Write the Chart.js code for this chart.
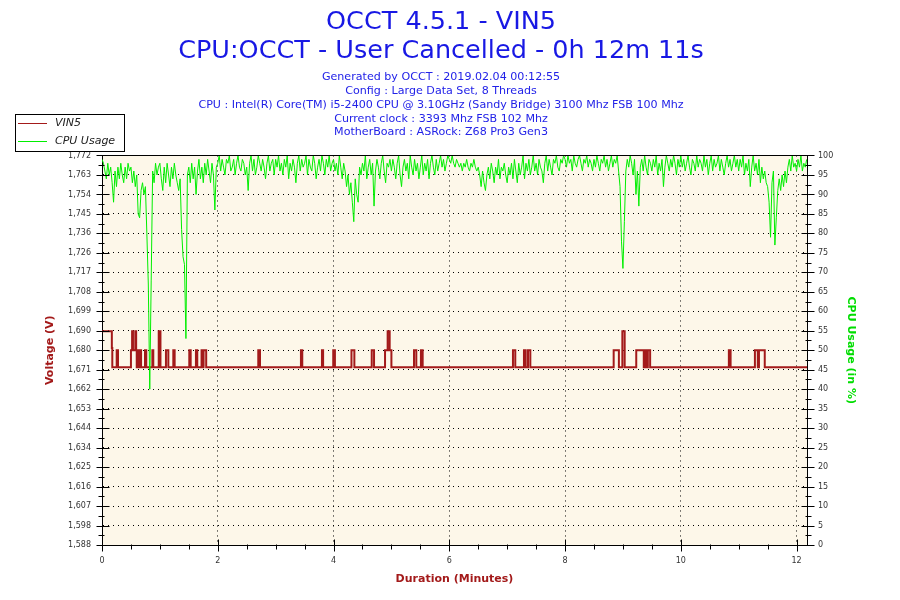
<!DOCTYPE html>
<html>
<head>
<meta charset="utf-8">
<script src="https://cdn.jsdelivr.net/npm/chart.js@4.4.0/dist/chart.umd.min.js"></script>
<style>
html,body{margin:0;padding:0;background:#fff;}
#wrap{width:900px;height:600px;}
</style>
</head>
<body>
<div id="wrap"><canvas id="c" width="900" height="600"></canvas></div>
<script>
// ---------- data ----------
const titleLines = ['OCCT 4.5.1 - VIN5', 'CPU:OCCT - User Cancelled - 0h 12m 11s'];
const infoLines = [
  'Generated by OCCT : 2019.02.04 00:12:55',
  'Config : Large Data Set, 8 Threads',
  'CPU : Intel(R) Core(TM) i5-2400 CPU @ 3.10GHz (Sandy Bridge) 3100 Mhz FSB 100 Mhz',
  'Current clock : 3393 Mhz FSB 102 Mhz',
  'MotherBoard : ASRock: Z68 Pro3 Gen3'
];
const seriesNames = ['VIN5', 'CPU Usage'];
const axisTitles = { x: 'Duration (Minutes)', left: 'Voltage (V)', right: 'CPU Usage (in %)' };

// VIN5: value holds from each time until the next time (minutes)
const vinTimes = [0, 0.170, 0.178, 0.254, 0.276, 0.500, 0.520, 0.535, 0.575, 0.590,
  0.600, 0.610, 0.640, 0.650, 0.675, 0.743, 0.765, 0.870, 0.886, 0.980,
  1.010, 1.105, 1.146, 1.232, 1.255, 1.508, 1.532, 1.623, 1.646, 1.720,
  1.745, 1.755, 1.800, 2.700, 2.730, 3.437, 3.460, 3.800, 3.820, 3.995,
  4.024, 4.310, 4.360, 4.660, 4.700, 4.890, 4.935, 4.970, 5.000, 5.390,
  5.430, 5.510, 5.540, 7.100, 7.140, 7.290, 7.320, 7.360, 7.400, 8.840,
  8.930, 8.990, 9.030, 9.230, 9.360, 9.380, 9.410, 9.430, 9.470, 10.830,
  10.860, 11.280, 11.330, 11.350, 11.450, 12.180];
const vinValues = [1.689, 1.681, 1.672, 1.680, 1.672, 1.680, 1.689, 1.680, 1.689, 1.680,
  1.672, 1.680, 1.672, 1.680, 1.672, 1.680, 1.672, 1.680, 1.672, 1.689,
  1.672, 1.680, 1.672, 1.680, 1.672, 1.680, 1.672, 1.680, 1.672, 1.680,
  1.672, 1.680, 1.672, 1.680, 1.672, 1.680, 1.672, 1.680, 1.672, 1.680,
  1.672, 1.680, 1.672, 1.680, 1.672, 1.680, 1.689, 1.680, 1.672, 1.680,
  1.672, 1.680, 1.672, 1.680, 1.672, 1.680, 1.672, 1.680, 1.672, 1.680,
  1.672, 1.689, 1.672, 1.680, 1.672, 1.680, 1.672, 1.680, 1.672, 1.680,
  1.672, 1.680, 1.672, 1.680, 1.672, 1.672];

// CPU usage (%) sampled every cpuStep minutes (one row = half a minute)
const cpuStep = 0.025;
const cpuValues = [
  99, 98, 96, 94, 98, 95, 97, 93, 88, 96, 92, 97, 94, 98, 95, 93, 97, 94, 98, 96,
  97, 93, 96, 92, 95, 85, 84, 91, 93, 90, 92, 80, 67, 40, 68, 96, 93, 98, 95, 97,
  98, 94, 91, 97, 93, 98, 95, 92, 97, 94, 98, 95, 93, 91, 94, 81, 74, 72, 53, 95,
  97, 93, 98, 94, 97, 90, 96, 99, 94, 97, 93, 98, 95, 99, 96, 93, 98, 95, 86, 97,
  98, 100, 96, 99, 97, 95, 99, 98, 100, 96, 97, 99, 95, 98, 100, 97, 96, 99, 98, 95,
  97, 91, 98, 100, 96, 99, 95, 97, 100, 98, 96, 99, 97, 94, 98, 100, 96, 98, 99, 95,
  99, 97, 100, 96, 98, 95, 99, 97, 100, 94, 98, 96, 99, 97, 93, 98, 100, 96, 99, 97,
  98, 100, 95, 99, 97, 96, 100, 98, 94, 97, 99, 96, 100, 98, 95, 99, 97, 100, 96, 98,
  99, 96, 98, 95, 100, 97, 94, 98, 96, 92, 95, 90, 93, 88, 83, 94, 90, 88, 97, 95,
  98, 96, 100, 94, 97, 99, 95, 98, 87, 96, 99, 97, 94, 98, 100, 96, 93, 98, 97, 99,
  96, 99, 97, 94, 98, 100, 95, 92, 97, 99, 96, 98, 94, 100, 97, 95, 99, 96, 98, 94,
  97, 100, 95, 98, 96, 99, 94, 98, 100, 97, 95, 99, 96, 98, 100, 97, 99, 96, 98, 100,
  99, 98, 100, 98, 97, 99, 98, 97, 98, 96, 98, 97, 99, 97, 96, 98, 97, 99, 97, 96,
  97, 95, 92, 96, 93, 91, 95, 97, 94, 98, 96, 93, 97, 95, 99, 94, 97, 96, 98, 95,
  93, 97, 95, 98, 94, 99, 96, 93, 98, 95, 97, 100, 94, 98, 96, 99, 95, 97, 100, 96,
  98, 95, 99, 97, 96, 93, 98, 100, 96, 99, 97, 95, 99, 98, 100, 97, 96, 99, 98, 100,
  99, 97, 100, 98, 99, 96, 100, 98, 97, 99, 100, 98, 96, 99, 98, 100, 97, 99, 98, 96,
  99, 97, 100, 98, 96, 99, 98, 100, 97, 99, 96, 98, 100, 97, 99, 98, 100, 96, 92, 78,
  71, 83, 96, 99, 97, 100, 98, 95, 99, 90, 96, 87, 97, 99, 96, 100, 97, 95, 99, 98,
  96, 99, 97, 100, 95, 98, 96, 99, 92, 97, 100, 98, 96, 99, 97, 100, 98, 95, 99, 97,
  100, 97, 99, 96, 98, 100, 97, 95, 99, 98, 96, 100, 97, 99, 98, 96, 100, 97, 99, 95,
  98, 100, 96, 99, 97, 98, 100, 96, 99, 97, 95, 98, 100, 97, 99, 96, 98, 100, 97, 99,
  96, 99, 97, 100, 95, 98, 96, 99, 92, 97, 100, 96, 98, 95, 99, 93, 97, 94, 96, 93,
  92, 88, 79, 93, 96, 77, 84, 91, 94, 91, 95, 92, 96, 93, 97, 99, 96, 100, 97, 98,
  96, 99, 97, 100, 96, 98, 97, 99
];

const voltMin = 1.588, voltMax = 1.772;
const voltTickLabels = ['1,588','1,598','1,607','1,616','1,625','1,634','1,644','1,653','1,662','1,671',
  '1,680','1,690','1,699','1,708','1,717','1,726','1,736','1,745','1,754','1,763','1,772'];
const cpuTickLabels = ['0','5','10','15','20','25','30','35','40','45','50','55','60','65','70','75','80','85','90','95','100'];
const durationMax = 12.18;
const durationLabels = [0, 2, 4, 6, 8, 10, 12];

// ---------- styling ----------
const RED = '#a31a1a';
const GREEN = '#00ee00';
const GREEN_T = '#00dd00';
const BLUE = '#1818e4';
const FONT = 'DejaVu Sans';
const TICKC = '#333333';
const clear = 'rgba(0,0,0,0)';

const vinData = vinTimes.map((t, i) => ({ x: t, y: vinValues[i] }));
const cpuData = cpuValues.map((v, i) => ({ x: +(i * cpuStep).toFixed(3), y: v }));

const decorPlugin = {
  id: 'decor',
  beforeDraw(chart) {
    const { ctx, chartArea: a } = chart;
    ctx.save();
    ctx.fillStyle = '#ffffff';
    ctx.fillRect(0, 0, chart.width, chart.height);
    ctx.fillStyle = '#fdf7e9';
    ctx.fillRect(a.left, a.top, a.right - a.left, a.bottom - a.top);
    ctx.restore();
  },
  afterDraw(chart) {
    const { ctx, chartArea: a } = chart;
    ctx.save();
    ctx.strokeStyle = '#000';
    ctx.lineWidth = 1;
    const L = Math.round(a.left) + 0.5, R = Math.round(a.right) + 0.5;
    const T = Math.round(a.top) + 0.5, B = Math.round(a.bottom) + 0.5;
    ctx.beginPath();
    ctx.moveTo(L, T); ctx.lineTo(R, T);
    const xs = chart.scales.x;
    xs.ticks.forEach((tk) => {
      const px = Math.round(xs.getPixelForValue(tk.value)) + 0.5;
      const major = durationLabels.includes(tk.value);
      ctx.moveTo(px, B - (major ? 6 : 1));
      ctx.lineTo(px, B + (major ? 6 : 4));
    });
    const ys = chart.scales.y;
    ys.ticks.forEach((tk, i) => {
      const py = Math.round(ys.getPixelForValue(tk.value)) + 0.5;
      const major = i % 2 === 0;
      ctx.moveTo(L - (major ? 6 : 4), py);
      ctx.lineTo(L + (major ? 7 : 2), py);
    });
    const y1 = chart.scales.y1;
    y1.ticks.forEach((tk, i) => {
      const py = Math.round(y1.getPixelForValue(tk.value)) + 0.5;
      const major = i % 2 === 0;
      ctx.moveTo(R - (major ? 6 : 2), py);
      ctx.lineTo(R + (major ? 7 : 4), py);
    });
    ctx.stroke();

    // legend
    ctx.fillStyle = '#ffffff';
    ctx.fillRect(15.5, 114.5, 109, 37);
    ctx.strokeRect(15.5, 114.5, 109, 37);
    const items = [[seriesNames[0], RED, 123.5], [seriesNames[1], GREEN, 141.5]];
    ctx.font = 'italic 11px "' + FONT + '"';
    ctx.textBaseline = 'middle';
    ctx.textAlign = 'left';
    items.forEach(([name, col, y]) => {
      ctx.strokeStyle = col;
      ctx.beginPath();
      ctx.moveTo(18, y); ctx.lineTo(47, y);
      ctx.stroke();
      ctx.fillStyle = '#222';
      ctx.fillText(name, 55, y);
    });
    ctx.restore();
  }
};

new Chart(document.getElementById('c'), {
  type: 'line',
  data: {
    datasets: [
      { label: seriesNames[0], data: vinData, yAxisID: 'y', borderColor: RED, backgroundColor: RED,
        borderWidth: 2, pointRadius: 0, stepped: 'before', order: 1 },
      { label: seriesNames[1], data: cpuData, yAxisID: 'y1', borderColor: GREEN, backgroundColor: GREEN,
        borderWidth: 1, pointRadius: 0, tension: 0, order: 0 }
    ]
  },
  options: {
    responsive: false,
    animation: false,
    devicePixelRatio: 1,
    layout: { padding: { left: 0, right: 18, top: 0, bottom: 0 } },
    plugins: {
      legend: { display: false },
      tooltip: { enabled: false },
      title: { display: true, text: titleLines, color: BLUE,
        font: { family: FONT, size: 25.5, weight: 'normal', lineHeight: 1.15 },
        padding: { top: 7.4, bottom: 0 } },
      subtitle: { display: true, text: infoLines, color: '#2222e8',
        font: { family: FONT, size: 11.1, weight: 'normal', lineHeight: 1.24 },
        padding: { top: 4.6, bottom: 16 } }
    },
    scales: {
      x: {
        type: 'linear', min: 0, max: durationMax,
        afterBuildTicks: (s) => { const t = []; for (let i = 0; i <= 24; i++) t.push({ value: i * 0.5 }); s.ticks = t; },
        afterFit: (s) => { s.height = 55; },
        ticks: { autoSkip: false, maxRotation: 0, padding: 11, color: TICKC,
          font: { family: FONT, size: 8 },
          callback: (v) => durationLabels.includes(v) ? String(v) : '' },
        grid: { drawTicks: false, lineWidth: 1,
          color: (c) => (c.tick && durationLabels.includes(c.tick.value) && c.tick.value > 0) ? '#000' : clear },
        border: { display: true, color: '#000', width: 1, dash: [1, 4] },
        title: { display: true, text: axisTitles.x, color: RED,
          font: { family: FONT, size: 11, weight: 'bold' }, padding: { top: 0, bottom: 14.4 } }
      },
      y: {
        type: 'linear', position: 'left', min: voltMin, max: voltMax,
        afterBuildTicks: (s) => { const t = []; for (let i = 0; i <= 40; i++) t.push({ value: voltMin + i * (voltMax - voltMin) / 40 }); s.ticks = t; },
        afterFit: (s) => { s.width = 102; },
        ticks: { autoSkip: false, padding: 11, color: TICKC, font: { family: FONT, size: 8 },
          callback: (v, i) => (i % 2 === 0) ? voltTickLabels[i / 2] : '' },
        grid: { drawTicks: false, lineWidth: 1,
          color: (c) => (c.index % 2 === 0 && c.index > 0) ? '#000' : clear },
        border: { display: true, color: '#000', width: 1, dash: [1, 4] },
        title: { display: true, text: axisTitles.left, color: RED,
          font: { family: FONT, size: 11, weight: 'bold' }, padding: { top: 43.4, bottom: 0 } }
      },
      y1: {
        type: 'linear', position: 'right', min: 0, max: 100,
        afterBuildTicks: (s) => { const t = []; for (let i = 0; i <= 40; i++) t.push({ value: i * 2.5 }); s.ticks = t; },
        afterFit: (s) => { s.width = 75; },
        ticks: { autoSkip: false, padding: 11, color: TICKC, font: { family: FONT, size: 8 },
          callback: (v, i) => (i % 2 === 0) ? cpuTickLabels[i / 2] : '' },
        grid: { drawTicks: false, drawOnChartArea: false },
        border: { display: true, color: '#000', width: 1 },
        title: { display: true, text: axisTitles.right, color: GREEN_T,
          font: { family: FONT, size: 11, weight: 'bold' }, padding: { top: 24.4, bottom: 0 } }
      }
    }
  },
  plugins: [decorPlugin]
});
</script>
</body>
</html>
